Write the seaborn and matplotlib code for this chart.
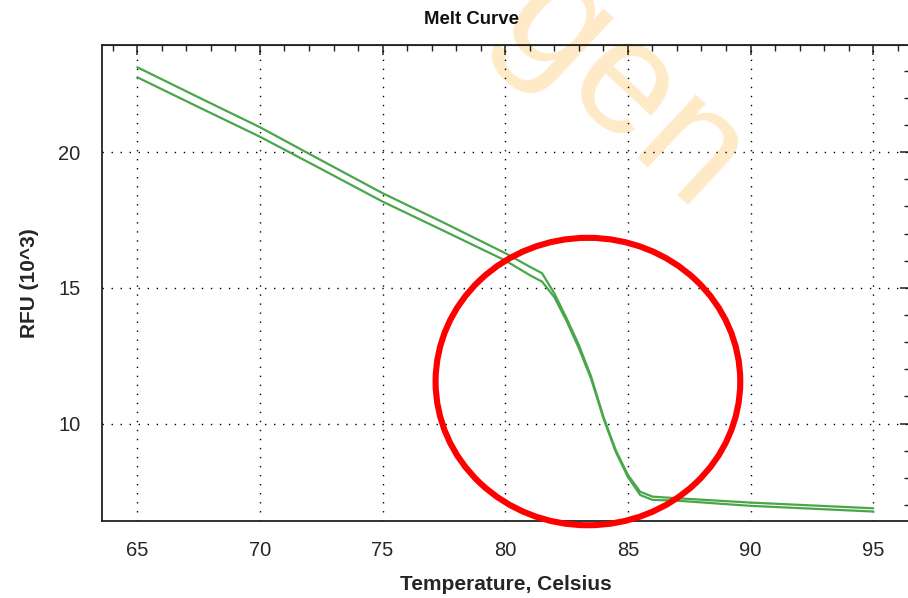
import matplotlib
matplotlib.use("Agg")
import matplotlib.pyplot as plt
import numpy as np
import pandas as pd
import seaborn as sns
from matplotlib.patches import Ellipse
from matplotlib.ticker import MultipleLocator

# ---- data ----
temps = [65, 67.5, 70, 72.5, 75, 77.5, 80, 81, 81.5, 82, 82.5, 83, 83.5,
         84, 84.5, 85, 85.5, 86, 87, 90, 95]
rfu_well_a = [23.13, 22.02, 20.92, 19.70, 18.49, 17.40, 16.28, 15.78, 15.54,
              14.80, 13.88, 12.90, 11.73, 10.26, 9.03, 8.11, 7.49, 7.31,
              7.25, 7.09, 6.88]
rfu_well_b = [22.76, 21.66, 20.57, 19.38, 18.18, 17.10, 16.01, 15.47, 15.23,
              14.66, 13.78, 12.78, 11.65, 10.20, 8.97, 8.03, 7.37, 7.19,
              7.16, 6.97, 6.76]
x_ticks = [65, 70, 75, 80, 85, 90, 95]
y_ticks = [10, 15, 20]

title_text = "Melt Curve"
x_label = "Temperature, Celsius"
y_label = "RFU (10^3)"
watermark = "gen"

# ---- style ----
sns.set_style("white")
plt.rcParams["font.family"] = ["Liberation Sans", "DejaVu Sans"]

W, H = 908, 598
fig = plt.figure(figsize=(W / 100, H / 100), dpi=100)
fig.patch.set_facecolor("white")

ax_l, ax_r, ax_t, ax_b = 101.5, 910.0, 45.0, 520.5
ax = fig.add_axes([ax_l / W, 1 - ax_b / H, (ax_r - ax_l) / W, (ax_b - ax_t) / H])
ax.set_facecolor("none")

df = pd.DataFrame({
    "temp": temps * 2,
    "rfu": rfu_well_a + rfu_well_b,
    "well": ["A"] * len(temps) + ["B"] * len(temps),
})
green = "#4aa64a"
sns.lineplot(data=df, x="temp", y="rfu", hue="well",
             palette={"A": green, "B": green}, linewidth=1.6,
             legend=False, ax=ax, zorder=3)

ax.set_xlim(63.54, 96.5)
ax.set_ylim(6.43, 23.95)
ax.set_xticks(x_ticks)
ax.set_yticks(y_ticks)
ax.xaxis.set_minor_locator(MultipleLocator(1))
ax.yaxis.set_minor_locator(MultipleLocator(1))

ax.grid(True, which="major", color="black", linestyle=(0, (1, 5.5)),
        linewidth=1.0)
ax.grid(False, which="minor")

for s in ax.spines.values():
    s.set_color("#222222")
    s.set_linewidth(1.3)

ax.tick_params(axis="both", which="major", direction="inout", length=11,
               width=1.1, color="#222222", labelsize=14.5,
               top=False, right=False)
ax.tick_params(axis="x", which="major", pad=9.5)
ax.tick_params(axis="y", which="major", pad=9.5)
ax.tick_params(axis="both", which="minor", direction="inout", length=6,
               width=1.0, color="#222222", top=False, right=False)

# inward ticks on top and right
secx = ax.secondary_xaxis("top")
secx.set_xticks(x_ticks)
secx.xaxis.set_minor_locator(MultipleLocator(1))
secx.tick_params(which="major", direction="in", length=7, width=1.1,
                 labeltop=False, color="#222222")
secx.tick_params(which="minor", direction="in", length=4, width=1.0,
                 color="#222222")
secy = ax.secondary_yaxis("right")
secy.set_yticks(y_ticks)
secy.yaxis.set_minor_locator(MultipleLocator(1))
secy.tick_params(which="major", direction="in", length=7, width=1.1,
                 labelright=False, color="#222222")
secy.tick_params(which="minor", direction="in", length=4, width=1.0,
                 color="#222222")

ax.set_xlabel(x_label, fontsize=15, fontweight="bold", labelpad=10.5)
ax.set_ylabel(y_label, fontsize=15, fontweight="bold", labelpad=14)

fig.text(471 / W, 1 - 20 / H, title_text, fontsize=13.4, fontweight="bold",
         ha="center", va="center", color="#111111")

# watermark
fig.text(622 / W, 1 - 93 / H, watermark, fontsize=118, color="#FFEAC8",
         rotation=-43, rotation_mode="anchor", ha="center", va="center",
         zorder=-1)

# red highlight circle
circ_cx, circ_cy, circ_w, circ_h = 83.37, 11.55, 12.42, 10.59
ell = Ellipse((circ_cx, circ_cy), circ_w, circ_h, fill=False,
              edgecolor="#ff0000", linewidth=4.4, clip_on=False, zorder=5)
ax.add_patch(ell)

fig.savefig("out.png", dpi=100)
